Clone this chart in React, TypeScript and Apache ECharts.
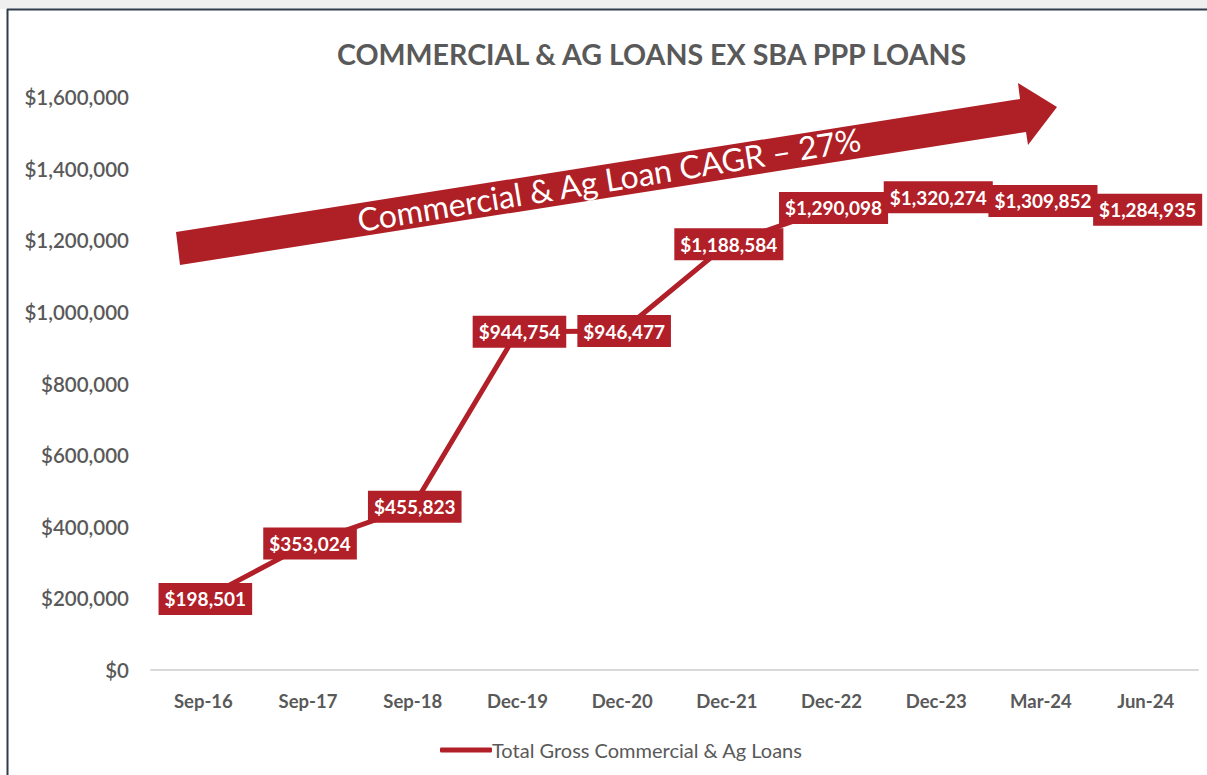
import React, { useEffect, useRef } from "react";
import * as echarts from "echarts";

const categories = ["Sep-16", "Sep-17", "Sep-18", "Dec-19", "Dec-20", "Dec-21", "Dec-22", "Dec-23", "Mar-24", "Jun-24"];
const loanValues = [198501, 353024, 455823, 944754, 946477, 1188584, 1290098, 1320274, 1309852, 1284935];
const seriesName = "Total Gross Commercial & Ag Loans";
const titleText = "COMMERCIAL & AG LOANS EX SBA PPP LOANS";
const arrowText = "Commercial & Ag Loan CAGR \u2013 27%";
const yMin = 0;
const yMax = 1600000;
const yInterval = 200000;

const RED = "#B11F28";
const GREY = "#595959";
const FONT = "Lato, 'Open Sans', sans-serif";

const fmt = (v: number) => "$" + Math.round(v).toLocaleString("en-US");

export default function App() {
  const ref = useRef<HTMLDivElement>(null);
  useEffect(() => {
    const chart = echarts.init(ref.current!, undefined, { renderer: "svg" });
    chart.setOption({
      animation: false,
      backgroundColor: "#ffffff",
      textStyle: { fontFamily: FONT },
      title: {
        text: titleText,
        left: 332,
        top: 34,
        textStyle: { fontFamily: FONT, fontSize: 28.6, fontWeight: "bold", color: GREY },
      },
      legend: {
        data: [seriesName],
        left: 435,
        top: 735,
        icon: "roundRect",
        itemWidth: 52,
        itemHeight: 5,
        itemGap: 4,
        textStyle: { fontFamily: FONT, fontSize: 20, color: GREY, padding: [0, 0, 0, -5] },
      },
      grid: { left: 151, right: 9, top: 97, bottom: 105, containLabel: false },
      xAxis: {
        type: "category",
        data: categories,
        boundaryGap: true,
        axisLine: { show: true, lineStyle: { color: "#d9d9d9", width: 2 } },
        axisTick: { show: false },
        axisLabel: { margin: 21, fontFamily: FONT, fontSize: 18.5, fontWeight: "bold", color: GREY },
        splitLine: { show: false },
      },
      yAxis: {
        type: "value",
        min: yMin,
        max: yMax,
        interval: yInterval,
        axisLine: { show: false },
        axisTick: { show: false },
        splitLine: { show: false },
        axisLabel: {
          margin: 22,
          fontFamily: FONT,
          fontSize: 20.5,
          fontWeight: 600,
          color: GREY,
          formatter: (v: number) => fmt(v),
        },
      },
      series: [
        {
          name: seriesName,
          type: "line",
          data: loanValues,
          symbol: "circle",
          symbolSize: 1,
          itemStyle: { color: RED },
          lineStyle: { color: RED, width: 5 },
          z: 3,
          label: {
            show: true,
            position: "inside",
            offset: [2, 0],
            formatter: (p: any) => fmt(p.value),
            backgroundColor: RED,
            color: "#ffffff",
            fontFamily: FONT,
            fontSize: 19,
            lineHeight: 21,
            fontWeight: "bold",
            padding: [6, 6, 5, 6],
          },
        },
      ],
      graphic: [
        { type: "rect", shape: { x: 0, y: 0, width: 1207, height: 9 }, style: { fill: "#efefef" }, silent: true },
        { type: "line", shape: { x1: 7, y1: 9.5, x2: 1207, y2: 9.5 }, style: { stroke: "#2e3d4d", lineWidth: 2 }, silent: true },
        { type: "line", shape: { x1: 7.5, y1: 9, x2: 7.5, y2: 775 }, style: { stroke: "#2e3d4d", lineWidth: 2 }, silent: true },
        {
          type: "polygon",
          z: 1,
          shape: {
            points: [
              [176, 232],
              [1020, 99],
              [1018, 83],
              [1057, 107],
              [1028, 145],
              [1026, 132],
              [180, 265],
            ],
          },
          style: { fill: "#AF1F26" },
          silent: true,
        },
        {
          type: "text",
          z: 2,
          x: 609,
          y: 179,
          rotation: (9.2 * Math.PI) / 180,
          style: {
            text: arrowText,
            fill: "#ffffff",
            fontFamily: FONT,
            fontSize: 32,
            align: "center",
            verticalAlign: "middle",
          },
          silent: true,
        },
      ],
    });
    return () => chart.dispose();
  }, []);
  return (
    <div
      ref={ref}
      style={{ position: "absolute", left: 0, top: 0, width: 1207, height: 775, background: "#fff" }}
    />
  );
}
